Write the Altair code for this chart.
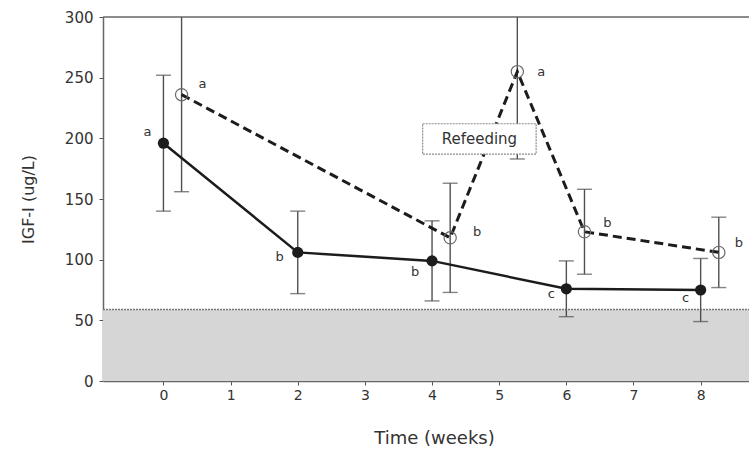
import altair as alt
import pandas as pd

# --- data -------------------------------------------------------------
weeks = [0, 2, 4, 6, 8]
fasting_mean = [196, 106, 99, 76, 75]
fasting_sem = [56, 34, 33, 23, 26]
fasting_letters = ["a", "b", "b", "c", "c"]

refeed_weeks = [0.27, 4.27, 5.27, 6.27, 8.27]
refeed_mean = [236, 118, 255, 123, 106]
refeed_sem = [80, 45, 72, 35, 29]
refeed_letters = ["a", "b", "a", "b", "b"]

low_range = [0, 59]           # shaded reference band (ug/L)
refeed_note = "Refeeding"
note_box_x = [3.86, 5.55]
note_box_y = [187, 212]

x_ticks = [0, 1, 2, 3, 4, 5, 6, 7, 8]
y_ticks = [0, 50, 100, 150, 200, 250, 300]

X_MIN, X_MAX = -0.90, 8.72
Y_MIN, Y_MAX = 0, 300

# label offsets (pixels) for the significance letters
fasting_label_offsets = [(-16, -11), (-18, 5), (-17, 11), (-15, 5), (-15, 8)]
refeed_label_offsets = [(21, -11), (27, -6), (24, 0), (23, -9), (20, -9)]

FONT = "DejaVu Sans"
INK = "#1c1c1c"
TEXT = "#333333"

fasting = pd.DataFrame({
    "week": weeks,
    "igf": fasting_mean,
    "lo": [m - s for m, s in zip(fasting_mean, fasting_sem)],
    "hi": [m + s for m, s in zip(fasting_mean, fasting_sem)],
    "letter": fasting_letters,
})
refeed = pd.DataFrame({
    "week": refeed_weeks,
    "igf": refeed_mean,
    "lo": [m - s for m, s in zip(refeed_mean, refeed_sem)],
    "hi": [m + s for m, s in zip(refeed_mean, refeed_sem)],
    "letter": refeed_letters,
})

x_scale = alt.Scale(domain=[X_MIN, X_MAX], nice=False, zero=False)
y_scale = alt.Scale(domain=[Y_MIN, Y_MAX], nice=False)

x_axis = alt.Axis(
    values=x_ticks, format="d", title="Time (weeks)",
    titleX=331, titleY=57, titleBaseline="middle", titleAlign="center",
    titleFontSize=18, titleFontWeight="normal", titleFont=FONT, titleColor=TEXT,
    labelFont=FONT, labelFontSize=14, labelColor=TEXT, labelPadding=3,
    tickSize=4, tickColor="#555555", domainColor="#666666", domainWidth=1.5,
    grid=False, labelFlush=False,
)
y_axis = alt.Axis(
    values=y_ticks, title="IGF-I (ug/L)",
    titleX=-75, titleY=182, titleAngle=270, titleBaseline="middle", titleAlign="center",
    titleFontSize=16, titleFontWeight="normal", titleFont=FONT, titleColor=TEXT,
    labelFont=FONT, labelFontSize=15, labelColor=TEXT, labelPadding=6,
    tickSize=4, tickColor="#555555", domainColor="#666666", domainWidth=1.5,
    grid=False, labelFlush=False,
)


def X(field):
    return alt.X(field, type="quantitative", scale=x_scale, axis=x_axis)


def Y(field):
    return alt.Y(field, type="quantitative", scale=y_scale, axis=y_axis)


# shaded low-value band
band_df = pd.DataFrame({"x": [X_MIN], "x2": [X_MAX], "y": [low_range[0]], "y2": [low_range[1]]})
band = alt.Chart(band_df).mark_rect(color="#d6d6d6").encode(
    x=X("x"), x2="x2", y=Y("y"), y2="y2",
)
band_edge = alt.Chart(band_df).mark_rule(color="#777777", strokeWidth=1.5, strokeDash=[2, 1]).encode(
    x=X("x"), x2="x2", y=Y("y2"),
)

# frame line along the top
top_edge = alt.Chart(pd.DataFrame({"x": [X_MIN], "x2": [X_MAX], "y": [Y_MAX]})).mark_rule(
    color="#666666", strokeWidth=1.5
).encode(x=X("x"), x2="x2", y=Y("y"))


def error_layers(df):
    stem = alt.Chart(df).mark_rule(color="#505050", strokeWidth=1.4, clip=True).encode(
        x=X("week"), y=Y("lo"), y2="hi",
    )
    cap_lo = alt.Chart(df).mark_tick(
        orient="horizontal", size=15, thickness=1.4, color="#505050", clip=True
    ).encode(x=X("week"), y=Y("lo"))
    cap_hi = alt.Chart(df).mark_tick(
        orient="horizontal", size=15, thickness=1.4, color="#505050", clip=True
    ).encode(x=X("week"), y=Y("hi"))
    return [stem, cap_lo, cap_hi]


fasting_line = alt.Chart(fasting).mark_line(color=INK, strokeWidth=2.5).encode(x=X("week"), y=Y("igf"))
refeed_line = alt.Chart(refeed).mark_line(color=INK, strokeWidth=3, strokeDash=[9, 5]).encode(
    x=X("week"), y=Y("igf")
)

fasting_pts = alt.Chart(fasting).mark_point(
    shape="circle", filled=True, size=125, color=INK, opacity=1
).encode(x=X("week"), y=Y("igf"))
refeed_pts = alt.Chart(refeed).mark_point(
    shape="circle", filled=False, size=150, color="#6a6a6a", strokeWidth=1.2, opacity=1
).encode(x=X("week"), y=Y("igf"))


def letter_layers(df, offsets):
    layers = []
    for i, (dx, dy) in enumerate(offsets):
        layers.append(
            alt.Chart(df.iloc[[i]]).mark_text(
                font=FONT, fontSize=13, color=TEXT, dx=dx, dy=dy,
                align="center", baseline="middle",
            ).encode(x=X("week"), y=Y("igf"), text="letter:N")
        )
    return layers


# "Refeeding" annotation box
note_df = pd.DataFrame({
    "x": [note_box_x[0]], "x2": [note_box_x[1]],
    "y": [note_box_y[0]], "y2": [note_box_y[1]],
    "cx": [(note_box_x[0] + note_box_x[1]) / 2],
    "cy": [(note_box_y[0] + note_box_y[1]) / 2],
    "label": [refeed_note],
})
note_box = alt.Chart(note_df).mark_rect(
    fill="white", stroke="#8a8a8a", strokeWidth=1.2, strokeDash=[2, 1]
).encode(x=X("x"), x2="x2", y=Y("y"), y2="y2")
note_text = alt.Chart(note_df).mark_text(
    font=FONT, fontSize=15, color=TEXT, align="center", baseline="middle"
).encode(x=X("cx"), y=Y("cy"), text="label:N")

chart = alt.layer(
    band,
    band_edge,
    top_edge,
    *error_layers(fasting),
    *error_layers(refeed),
    refeed_line,
    fasting_line,
    fasting_pts,
    refeed_pts,
    *letter_layers(fasting, fasting_label_offsets),
    *letter_layers(refeed, refeed_label_offsets),
    note_box,
    note_text,
).properties(
    width=646,
    height=364,
    padding={"left": 103, "top": 17, "right": 0, "bottom": 68},
    autosize="none",
    background="white",
).configure_view(strokeWidth=0)

chart.save("out.html", embed_options={"renderer": "svg", "actions": False})
